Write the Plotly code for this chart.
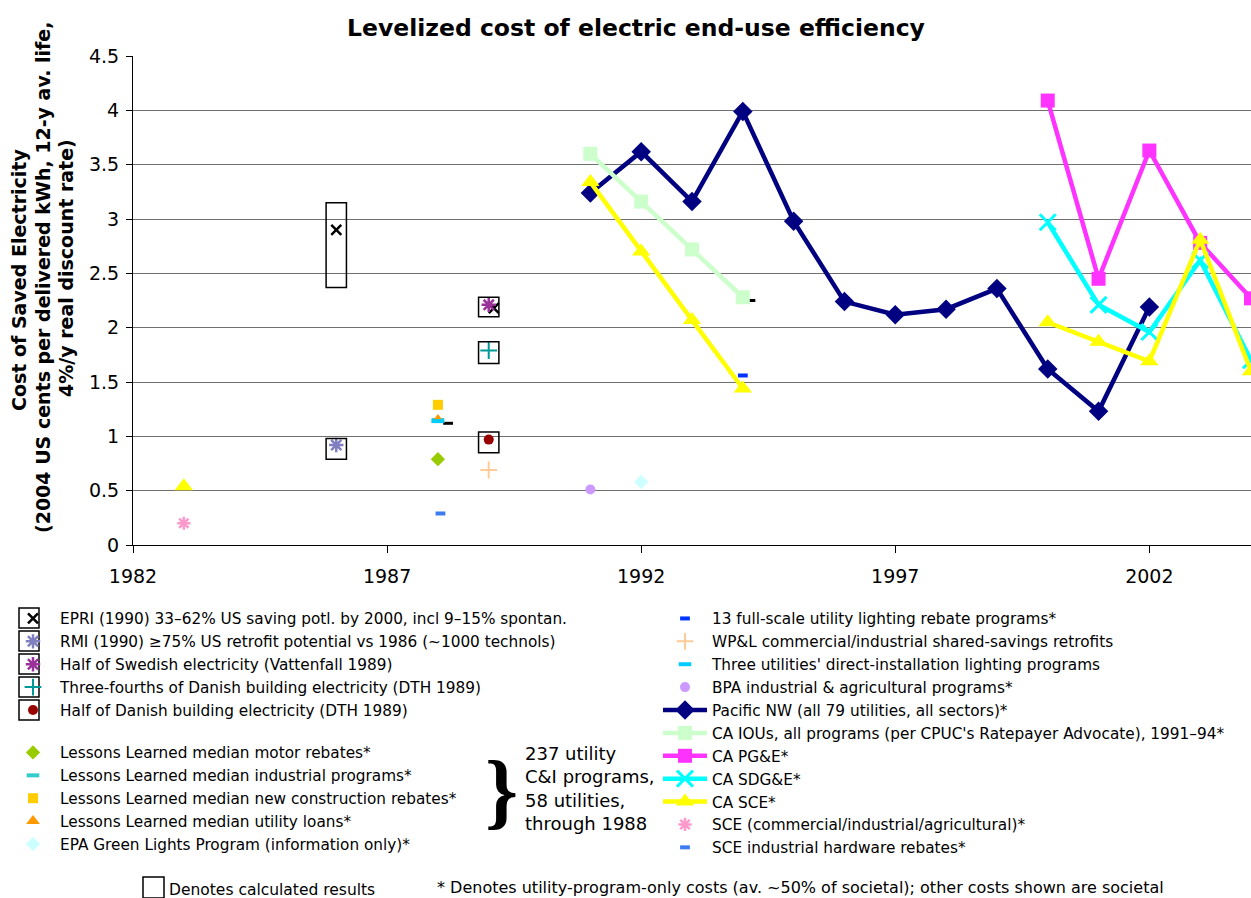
import plotly.graph_objects as go

# ---------------- data ----------------
pnw_years = [1991, 1992, 1993, 1994, 1995, 1996, 1997, 1998, 1999, 2000, 2001, 2002]
pnw_vals = [3.24, 3.62, 3.16, 3.99, 2.98, 2.24, 2.12, 2.17, 2.36, 1.62, 1.23, 2.19]

iou_years = [1991, 1992, 1993, 1994]
iou_vals = [3.60, 3.16, 2.72, 2.28]

pge_years = [2000, 2001, 2002, 2003, 2004]
pge_vals = [4.09, 2.45, 3.63, 2.78, 2.27]

sdge_years = [2000, 2001, 2002, 2003, 2004]
sdge_vals = [2.97, 2.21, 1.96, 2.62, 1.70]

sce_years = [1983, 1984, 1985, 1986, 1987, 1988, 1989, 1990, 1991, 1992, 1993,
             1994, 1995, 1996, 1997, 1998, 1999, 2000, 2001, 2002, 2003, 2004]
sce_vals = [0.54, None, None, None, None, None, None, None, 3.34, 2.70, 2.07,
            1.44, None, None, None, None, None, 2.05, 1.87, 1.69, 2.81, 1.60]

epri_x = [1986, 1989.1]
epri_y = [2.90, 2.18]
rmi_x, rmi_y = [1986], [0.92]
swed_x, swed_y = [1989], [2.21]
dk34_x, dk34_y = [1989], [1.79]
dkhalf_x, dkhalf_y = [1989], [0.97]
ll_motor_x, ll_motor_y = [1988], [0.79]
ll_ind_x, ll_ind_y = [1988], [1.15]
ll_newc_x, ll_newc_y = [1988], [1.29]
ll_loans_x, ll_loans_y = [1988], [1.15]
epa_x, epa_y = [1992], [0.58]
light13_x, light13_y = [1994], [1.56]
wpl_x, wpl_y = [1989], [0.69]
three_x, three_y = [1988], [1.14]
bpa_x, bpa_y = [1991], [0.51]
sce_cia_x, sce_cia_y = [1983], [0.20]
sce_hw_x, sce_hw_y = [1988.05], [0.29]
unl_x, unl_y = [1988.2, 1994.15], [1.12, 2.25]

# calculated-result boxes (centre year, low, high)
box_x = [1986, 1986, 1989, 1989, 1989]
box_lo = [2.37, 0.79, 2.10, 1.67, 0.85]
box_hi = [3.15, 0.98, 2.28, 1.87, 1.04]

x_ticks = [1982, 1987, 1992, 1997, 2002]

FONT = "DejaVu Sans"
W, H = 1251, 898
L, T, B = 133, 56, 353
PW, PH = W - L, H - T - B


def px(xp):
    return (xp - L) / PW


def py(yp):
    return (H - B - yp) / PH


fig = go.Figure()


def point(name, x, y, color, symbol, size, legend, lw=0, open_=False):
    mk = dict(symbol=symbol, size=size, color=color)
    if open_:
        mk["line"] = dict(color=color, width=lw)
    fig.add_trace(go.Scatter(x=x, y=y, mode="markers", name=name, marker=mk,
                             legend=legend, legendgroup=name))


def line(name, x, y, color, symbol, size, legend, lw=4.5, open_=False):
    mk = dict(symbol=symbol, size=size, color=color)
    if open_:
        mk["line"] = dict(color=color, width=3)
    fig.add_trace(go.Scatter(x=x, y=y, mode="lines+markers", name=name,
                             line=dict(color=color, width=lw), marker=mk,
                             connectgaps=False, legend=legend, legendgroup=name))


# unlabeled black dashes
fig.add_trace(go.Scatter(x=unl_x, y=unl_y, mode="markers", showlegend=False,
                         marker=dict(symbol="line-ew", size=7, line=dict(color="black", width=3))))

# legend 1 (boxed, calculated)
point("EPRI (1990) 33–62% US saving potl. by 2000, incl 9–15% spontan.", epri_x, epri_y,
      "black", "x-thin", 10, "legend", lw=2.5, open_=True)
point("RMI (1990) ≥75% US retrofit potential vs 1986 (~1000 technols)", rmi_x, rmi_y,
      "#8080c0", "asterisk", 12, "legend", lw=2.5, open_=True)
point("Half of Swedish electricity (Vattenfall 1989)", swed_x, swed_y,
      "#993399", "asterisk", 12, "legend", lw=2.5, open_=True)
point("Three-fourths of Danish building electricity (DTH 1989)", dk34_x, dk34_y,
      "#009999", "cross-thin", 12, "legend", lw=2, open_=True)
point("Half of Danish building electricity (DTH 1989)", dkhalf_x, dkhalf_y,
      "#990000", "circle", 10, "legend")

# legend 2 (Lessons Learned)
point("Lessons Learned median motor rebates*", ll_motor_x, ll_motor_y,
      "#99cc00", "diamond", 11, "legend2")
point("Lessons Learned median industrial programs*", ll_ind_x, ll_ind_y,
      "#33cccc", "line-ew", 9, "legend2", lw=4, open_=True)
point("Lessons Learned median new construction rebates*", ll_newc_x, ll_newc_y,
      "#ffcc00", "square", 10, "legend2")
point("Lessons Learned median utility loans*", ll_loans_x, ll_loans_y,
      "#ff9900", "triangle-up", 12, "legend2")
point("EPA Green Lights Program (information only)*", epa_x, epa_y,
      "#ccffff", "diamond", 11, "legend2")

# legend 3 (right column)
point("13 full-scale utility lighting rebate programs*", light13_x, light13_y,
      "#0033ff", "line-ew", 7, "legend3", lw=4, open_=True)
point("WP&L commercial/industrial shared-savings retrofits", wpl_x, wpl_y,
      "#ffcc99", "cross-thin", 12, "legend3", lw=2, open_=True)
point("Three utilities' direct-installation lighting programs", three_x, three_y,
      "#00ccff", "line-ew", 9, "legend3", lw=4, open_=True)
point("BPA industrial & agricultural programs*", bpa_x, bpa_y,
      "#cc99ff", "circle", 10, "legend3")
line("Pacific NW (all 79 utilities, all sectors)*", pnw_years, pnw_vals,
     "#000080", "diamond", 15, "legend3")
line("CA IOUs, all programs (per CPUC's Ratepayer Advocate), 1991–94*", iou_years, iou_vals,
     "#ccffcc", "square", 14, "legend3")
line("CA PG&E*", pge_years, pge_vals, "#ff33ff", "square", 14, "legend3")
line("CA SDG&E*", sdge_years, sdge_vals, "#00ffff", "x-thin", 16, "legend3", open_=True)
line("CA SCE*", sce_years, sce_vals, "#ffff00", "triangle-up", 16, "legend3")
point("SCE (commercial/industrial/agricultural)*", sce_cia_x, sce_cia_y,
      "#ff99cc", "asterisk", 11, "legend3", lw=2.5, open_=True)
point("SCE industrial hardware rebates*", sce_hw_x, sce_hw_y,
      "#3d7cf0", "line-ew", 7, "legend3", lw=4, open_=True)

# boxes around calculated results (data coords)
shapes = []
for bx, lo, hi in zip(box_x, box_lo, box_hi):
    shapes.append(dict(type="rect", xref="x", yref="y", x0=bx - 0.2, x1=bx + 0.2,
                       y0=lo, y1=hi, line=dict(color="black", width=1.5), layer="above"))

# legend boxes for legend 1 entries
row_y = [618, 641, 664, 687, 710]
for ry in row_y:
    shapes.append(dict(type="rect", xref="paper", yref="paper",
                       x0=px(19), x1=px(39), y0=py(ry + 10), y1=py(ry - 10),
                       line=dict(color="black", width=1.5)))
# footnote box
shapes.append(dict(type="rect", xref="paper", yref="paper",
                   x0=px(143), x1=px(164), y0=py(898), y1=py(877),
                   line=dict(color="black", width=1.5)))

annotations = [
    dict(text="<b>Cost of Saved Electricity</b>", x=px(19), y=py(280), textangle=-90),
    dict(text="<b>(2004 US cents per delivered kWh, 12-y av. life,</b>", x=px(43), y=py(278), textangle=-90),
    dict(text="<b>4%/y real discount rate)</b>", x=px(66), y=py(268), textangle=-90),
]
for a in annotations:
    a.update(xref="paper", yref="paper", showarrow=False, xanchor="center", yanchor="middle",
             font=dict(family=FONT, size=19, color="black"))

annotations += [
    dict(text="<b>}</b>", x=px(501), y=py(790), xref="paper", yref="paper", showarrow=False,
         xanchor="center", yanchor="middle",
         font=dict(family="Liberation Serif", size=84, color="black")),
    dict(text="237 utility<br>C&I programs,<br>58 utilities,<br>through 1988", x=px(523), y=py(741),
         xref="paper", yref="paper", showarrow=False, xanchor="left", yanchor="top", align="left",
         font=dict(family=FONT, size=18, color="black")),
    dict(text="Denotes calculated results", x=px(167), y=py(890), xref="paper", yref="paper",
         showarrow=False, xanchor="left", yanchor="middle",
         font=dict(family=FONT, size=15.5, color="black")),
    dict(text="* Denotes utility-program-only costs (av. ~50% of societal); other costs shown are societal",
         x=px(435), y=py(887), xref="paper", yref="paper", showarrow=False, xanchor="left",
         yanchor="middle", font=dict(family=FONT, size=16, color="black")),
]

leg_common = dict(bgcolor="rgba(0,0,0,0)", borderwidth=0, font=dict(family=FONT, size=15.3, color="black"),
                  itemwidth=44, xanchor="left", yanchor="top", tracegroupgap=0, itemclick=False)

fig.update_layout(
    width=W, height=H,
    margin=dict(l=L, r=0, t=T, b=B),
    paper_bgcolor="white", plot_bgcolor="white",
    font=dict(family=FONT, color="black"),
    title=dict(text="<b>Levelized cost of electric end-use efficiency</b>", x=636 / W, xref="container",
               xanchor="center", y=1 - 28 / H, yref="container", yanchor="middle",
               font=dict(family=FONT, size=23.5, color="black")),
    xaxis=dict(range=[1982, 2004], tickvals=x_ticks, ticks="outside", ticklen=7, tickcolor="black",
               showline=True, linecolor="black", linewidth=1, showgrid=False, zeroline=False,
               ticklabelstandoff=7,
               tickfont=dict(family=FONT, size=19, color="black")),
    yaxis=dict(range=[0, 4.5], dtick=0.5, ticks="outside", ticklen=6, tickcolor="black",
               showline=True, linecolor="black", linewidth=1, showgrid=True, gridcolor="#707070",
               gridwidth=1.2, zeroline=False, ticklabelstandoff=3,
               tickfont=dict(family=FONT, size=19, color="black")),
    shapes=shapes,
    annotations=annotations,
    legend=dict(x=px(6), y=py(602), **leg_common),
    legend2=dict(x=px(6), y=py(736), **leg_common),
    legend3=dict(x=px(658), y=py(602), **leg_common),
)

fig.write_html("out.html", config={"displayModeBar": False},
               post_script="document.body.style.margin='0';")
